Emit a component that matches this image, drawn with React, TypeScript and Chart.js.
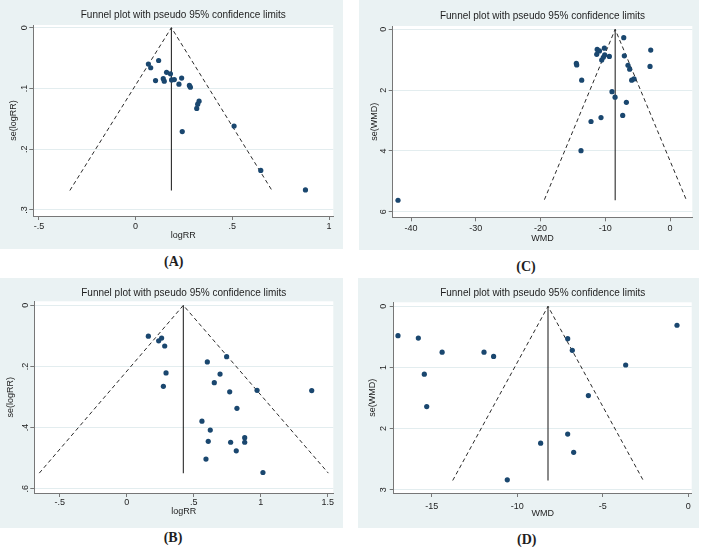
import React, { useEffect, useRef } from 'react';
import { Chart, registerables } from 'chart.js';

Chart.register(...registerables);

// ---------- Data ----------
const titleText = 'Funnel plot with pseudo 95% confidence limits';

// Panel A: logRR vs se(logRR)
const aLogRR = [0.066, 0.078, 0.119, 0.103, 0.143, 0.148, 0.160, 0.180, 0.186, 0.200, 0.238, 0.224, 0.278, 0.283, 0.328, 0.321, 0.316, 0.241, 0.509, 0.647, 0.878];
const aSe = [0.060, 0.066, 0.054, 0.087, 0.084, 0.088, 0.0735, 0.076, 0.086, 0.0855, 0.083, 0.093, 0.095, 0.098, 0.121, 0.126, 0.133, 0.171, 0.162, 0.235, 0.267];
const aLimitX = [-0.34, 0.185, 0.705];
const aLimitY = [0.268, 0, 0.268];
const aMidX = [0.185, 0.185];
const aMidY = [0, 0.268];
const aXTicks = [-0.5, 0, 0.5, 1];
const aYTicks = [0, 0.1, 0.2, 0.3];

// Panel B: logRR vs se(logRR)
const bLogRR = [0.162, 0.239, 0.261, 0.284, 0.294, 0.274, 0.602, 0.746, 0.697, 0.654, 0.769, 0.973, 1.381, 0.823, 0.562, 0.624, 0.609, 0.776, 0.881, 0.881, 0.818, 0.592, 1.017];
const bSe = [0.101, 0.116, 0.107, 0.133, 0.221, 0.265, 0.185, 0.168, 0.225, 0.253, 0.283, 0.278, 0.279, 0.337, 0.379, 0.408, 0.445, 0.448, 0.433, 0.448, 0.476, 0.503, 0.547];
const bLimitX = [-0.652, 0.423, 1.505];
const bLimitY = [0.549, 0, 0.549];
const bMidX = [0.423, 0.423];
const bMidY = [0, 0.549];
const bXTicks = [-0.5, 0, 0.5, 1, 1.5];
const bYTicks = [0, 0.2, 0.4, 0.6];

// Panel C: WMD vs se(WMD)
const cWMD = [-7.15, -11.25, -10.9, -10.14, -11.32, -10.09, -9.37, -10.55, -10.3, -7.06, -2.98, -14.47, -14.41, -6.49, -6.23, -3.09, -13.64, -5.92, -5.56, -8.96, -8.49, -6.74, -10.66, -12.2, -7.31, -13.75, -42.01];
const cSe = [0.275, 0.66, 0.71, 0.62, 0.82, 0.84, 0.89, 1.01, 0.92, 0.87, 0.68, 1.12, 1.17, 1.18, 1.31, 1.22, 1.67, 1.67, 1.63, 2.05, 2.23, 2.40, 2.90, 3.03, 2.83, 3.99, 5.62];
const cLimitX = [-19.4, -8.47, 2.5];
const cLimitY = [5.6, 0, 5.6];
const cMidX = [-8.47, -8.47];
const cMidY = [0, 5.62];
const cXTicks = [-40, -30, -20, -10, 0];
const cYTicks = [0, 2, 4, 6];

// Panel D: WMD vs se(WMD)
const dWMD = [-16.97, -15.78, -14.39, -15.43, -15.29, -11.94, -11.38, -7.05, -6.78, -0.66, -3.66, -5.84, -7.05, -8.63, -6.70, -10.58];
const dSe = [0.48, 0.52, 0.75, 1.11, 1.64, 0.75, 0.82, 0.53, 0.72, 0.31, 0.96, 1.46, 2.09, 2.24, 2.39, 2.84];
const dLimitX = [-13.77, -8.2, -2.63];
const dLimitY = [2.85, 0, 2.85];
const dMidX = [-8.2, -8.2];
const dMidY = [0, 2.85];
const dXTicks = [-15, -10, -5, 0];
const dYTicks = [0, 1, 2, 3];

// ---------- Styles ----------
const FONT = '"Liberation Sans", Arial, sans-serif';
const BG = '#eaf2f3';
const GRID = '#e3edef';
const AXIS = '#777777';
const TEXT = '#1e1e1e';
const NAVY = '#1a476f';
const LINE = '#2a2a2a';
const TL = 4;

type Spec = {
  id: string;
  caption: string;
  capX: number;
  capY: number;
  left: number;
  top: number;
  w: number;
  h: number;
  l: number;
  t: number;
  r: number;
  b: number;
  titleY: number;
  yTitleX: number;
  yTickX: number;
  xTickY: number;
  xTitleY: number;
  xMin: number;
  xMax: number;
  yMin: number;
  yMax: number;
  xTitle: string;
  yTitle: string;
  xs: number[];
  ys: number[];
  limX: number[];
  limY: number[];
  midX: number[];
  midY: number[];
  xTicks: number[];
  yTicks: number[];
};

const panels: Spec[] = [
  {
    id: 'A', caption: '(A)', capX: 173.7, capY: 262,
    left: 0, top: 0, w: 343, h: 249, l: 33.3, t: 25, r: 333.3, b: 216,
    titleY: 15, yTitleX: 13.3, yTickX: 24.5, xTickY: 226.7, xTitleY: 235.5,
    xMin: -0.529, xMax: 1.022, yMin: -0.0044, yMax: 0.31,
    xTitle: 'logRR', yTitle: 'se(logRR)',
    xs: aLogRR, ys: aSe, limX: aLimitX, limY: aLimitY, midX: aMidX, midY: aMidY,
    xTicks: aXTicks, yTicks: aYTicks,
  },
  {
    id: 'B', caption: '(B)', capX: 173, capY: 538,
    left: 0, top: 278, w: 343, h: 250, l: 34.3, t: 23.3, r: 333.3, b: 215,
    titleY: 15, yTitleX: 11, yTickX: 25.5, xTickY: 225, xTitleY: 233.3,
    xMin: -0.689, xMax: 1.542, yMin: -0.0132, yMax: 0.614,
    xTitle: 'logRR', yTitle: 'se(logRR)',
    xs: bLogRR, ys: bSe, limX: bLimitX, limY: bLimitY, midX: bMidX, midY: bMidY,
    xTicks: bXTicks, yTicks: bYTicks,
  },
  {
    id: 'C', caption: '(C)', capX: 526, capY: 266.7,
    left: 359, top: 0, w: 340, h: 250, l: 33.7, t: 26, r: 333.3, b: 217.3,
    titleY: 16.7, yTitleX: 15.3, yTickX: 24.5, xTickY: 228.3, xTitleY: 238.3,
    xMin: -42.83, xMax: 3.44, yMin: -0.11, yMax: 6.18,
    xTitle: 'WMD', yTitle: 'se(WMD)',
    xs: cWMD, ys: cSe, limX: cLimitX, limY: cLimitY, midX: cMidX, midY: cMidY,
    xTicks: cXTicks, yTicks: cYTicks,
  },
  {
    id: 'D', caption: '(D)', capX: 526.7, capY: 540,
    left: 358, top: 278, w: 341, h: 250, l: 35.7, t: 24.3, r: 333.7, b: 215,
    titleY: 15.7, yTitleX: 14.7, yTickX: 26, xTickY: 228.3, xTitleY: 235.5,
    xMin: -17.22, xMax: 0.2, yMin: -0.066, yMax: 3.055,
    xTitle: 'WMD', yTitle: 'se(WMD)',
    xs: dWMD, ys: dSe, limX: dLimitX, limY: dLimitY, midX: dMidX, midY: dMidY,
    xTicks: dXTicks, yTicks: dYTicks,
  },
];

function fmt(v: number): string {
  const s = String(Math.round(v * 1000) / 1000);
  return s.replace(/^0\./, '.').replace(/^-0\./, '-.');
}

const bgPlugin = {
  id: 'stataBg',
  beforeDraw(chart: any) {
    const { ctx, chartArea: a, width, height } = chart;
    ctx.save();
    ctx.fillStyle = BG;
    ctx.fillRect(0, 0, width, height);
    ctx.fillStyle = '#ffffff';
    ctx.fillRect(a.left, a.top, a.right - a.left, a.bottom - a.top);
    ctx.restore();
  },
};

function Panel({ p }: { p: Spec }) {
  const ref = useRef<HTMLCanvasElement>(null);
  useEffect(() => {
    const canvas = ref.current;
    if (!canvas) return;
    const mctx = document.createElement('canvas').getContext('2d')!;
    mctx.font = `9px ${FONT}`;
    const widest = Math.max(...p.yTicks.map((v) => mctx.measureText(fmt(v)).width));
    const font9 = { family: FONT, size: 9, weight: 'normal' as const, lineHeight: 1.2 };
    const chart = new Chart(canvas, {
      type: 'scatter',
      data: {
        datasets: [
          {
            data: p.xs.map((x, i) => ({ x, y: p.ys[i] })),
            pointRadius: 2.6,
            pointBackgroundColor: NAVY,
            pointBorderWidth: 0,
            showLine: false,
          },
          {
            data: p.midX.map((x, i) => ({ x, y: p.midY[i] })),
            showLine: true,
            borderColor: LINE,
            borderWidth: 1.1,
            pointRadius: 0,
          },
          {
            data: p.limX.map((x, i) => ({ x, y: p.limY[i] })),
            showLine: true,
            borderColor: LINE,
            borderWidth: 1,
            borderDash: [4, 3],
            pointRadius: 0,
          },
        ],
      },
      options: {
        responsive: false,
        animation: false,
        devicePixelRatio: 1,
        events: [],
        layout: { padding: { left: 0, top: 0, right: p.w - p.r, bottom: 0 } },
        plugins: {
          legend: { display: false },
          tooltip: { enabled: false },
          title: {
            display: true,
            text: titleText,
            fullSize: false,
            color: TEXT,
            font: { family: FONT, size: 10, weight: 'normal', lineHeight: 1.2 },
            padding: { top: p.titleY - 6, bottom: p.t - p.titleY - 6 },
          },
        },
        scales: {
          x: {
            type: 'linear',
            min: p.xMin,
            max: p.xMax,
            afterBuildTicks: (s: any) => {
              s.ticks = p.xTicks.map((v) => ({ value: v }));
            },
            afterFit: (s: any) => {
              s.height = p.h - p.b;
            },
            grid: { drawOnChartArea: false, tickLength: TL, tickColor: AXIS },
            border: { color: AXIS, width: 1 },
            ticks: {
              callback: (v: any) => fmt(Number(v)),
              font: font9,
              color: TEXT,
              padding: p.xTickY - p.b - TL - 5.4,
              autoSkip: false,
              maxRotation: 0,
              minRotation: 0,
            },
            title: {
              display: true,
              text: p.xTitle,
              font: font9,
              color: TEXT,
              padding: { top: 0, bottom: p.h - p.xTitleY - 5.4 },
            },
          },
          y: {
            type: 'linear',
            reverse: true,
            min: p.yMin,
            max: p.yMax,
            afterBuildTicks: (s: any) => {
              s.ticks = p.yTicks.map((v) => ({ value: v }));
            },
            afterFit: (s: any) => {
              s.width = p.l;
            },
            grid: { color: GRID, tickLength: TL, tickColor: AXIS, lineWidth: 1 },
            border: { color: AXIS, width: 1 },
            ticks: {
              callback: (v: any) => fmt(Number(v)),
              font: font9,
              color: TEXT,
              minRotation: 90,
              maxRotation: 90,
              crossAlign: 'center',
              padding: p.l - p.yTickX - TL - widest / 2,
              autoSkip: false,
            },
            title: {
              display: true,
              text: p.yTitle,
              font: font9,
              color: TEXT,
              padding: { top: p.yTitleX - 5.4, bottom: 0 },
            },
          },
        },
      } as any,
      plugins: [bgPlugin],
    });
    return () => chart.destroy();
  }, [p]);

  return (
    <canvas
      ref={ref}
      width={p.w}
      height={p.h}
      style={{ position: 'absolute', left: p.left, top: p.top, width: p.w, height: p.h, display: 'block' }}
    />
  );
}

export default function App() {
  return (
    <div
      style={{
        position: 'absolute',
        left: 0,
        top: 0,
        width: 702,
        height: 547,
        background: '#ffffff',
        overflow: 'hidden',
      }}
    >
      {panels.map((p) => (
        <Panel key={p.id} p={p} />
      ))}
      {panels.map((p) => (
        <div
          key={'cap' + p.id}
          style={{
            position: 'absolute',
            left: p.capX,
            top: p.capY,
            transform: 'translate(-50%, -50%)',
            fontFamily: '"Liberation Serif", "Times New Roman", serif',
            fontWeight: 'bold',
            fontSize: 14,
            lineHeight: 1,
            color: TEXT,
            whiteSpace: 'nowrap',
          }}
        >
          {p.caption}
        </div>
      ))}
    </div>
  );
}
